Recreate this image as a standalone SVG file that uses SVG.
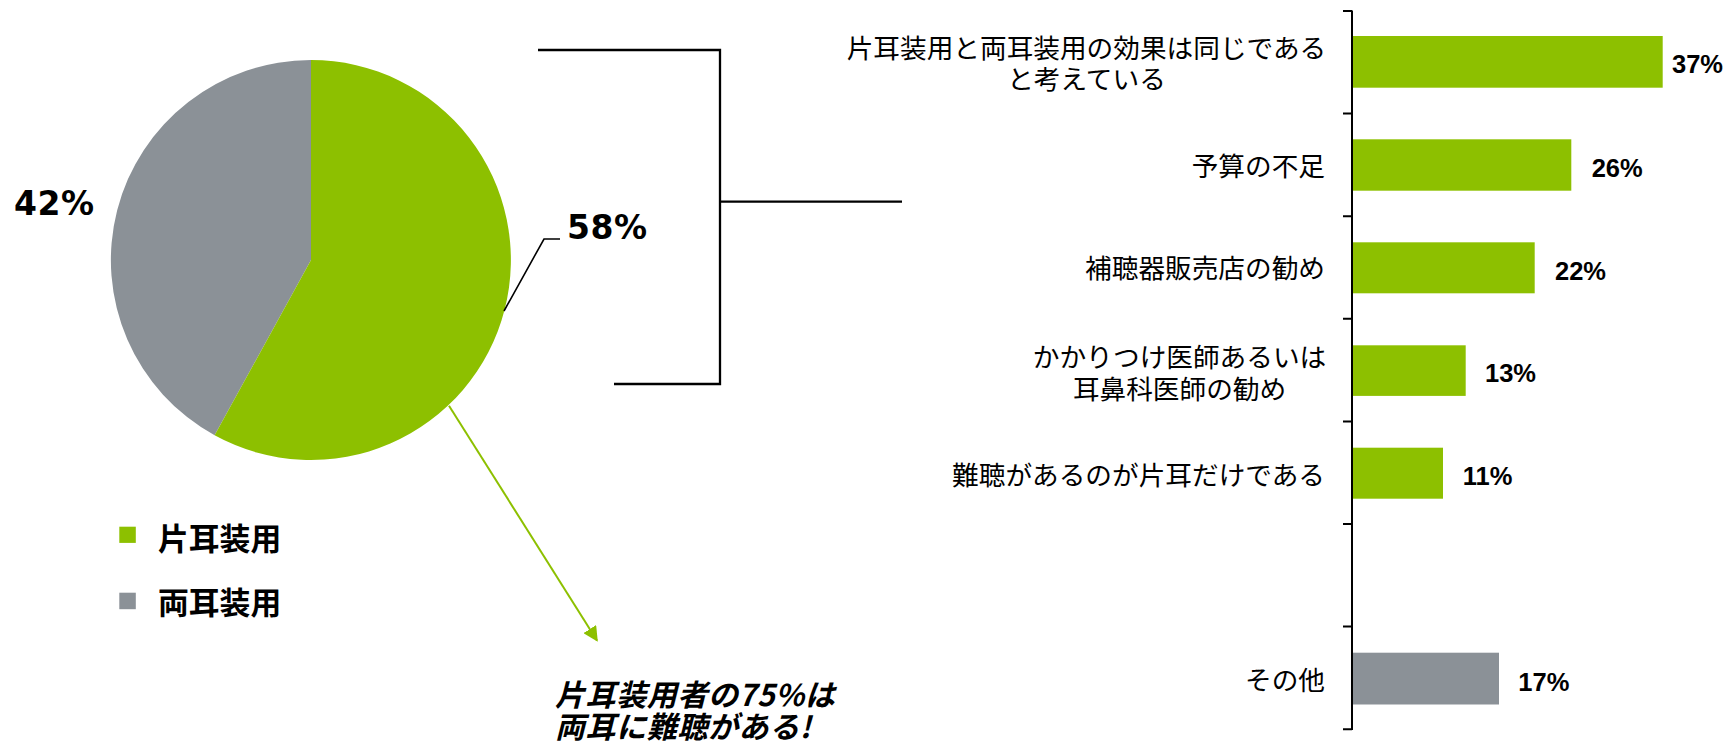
<svg xmlns="http://www.w3.org/2000/svg" width="1727" height="747" viewBox="0 0 1727 747">
<style>
.cat{font-family:"Noto Sans CJK JP","Noto Sans CJK SC",sans-serif;font-size:26.67px;fill:#000}
.val{font-family:"Liberation Sans",Arial,sans-serif;font-weight:bold;font-size:25.5px;fill:#000}
.pct{font-family:"DejaVu Sans",Verdana,sans-serif;font-weight:bold;font-size:33px;letter-spacing:0.6px;fill:#000}
.leg{font-family:"Noto Sans CJK JP","Noto Sans CJK SC",sans-serif;font-weight:bold;font-size:30.8px;fill:#000}
.note{font-family:"Noto Sans CJK JP","Noto Sans CJK SC",sans-serif;font-weight:bold;font-style:italic;font-size:30px;letter-spacing:0.6px;fill:#000}
.green{fill:#8DC000}
.grey{fill:#8B9197}
.blk{fill:none;stroke:#000;stroke-width:2.3}
</style>
<defs>
<marker id="arrowG" viewBox="0 0 10 10" refX="9" refY="5" markerWidth="7.5" markerHeight="7.5" markerUnits="strokeWidth" orient="auto">
<path d="M0,0 L10,5 L0,10 z" fill="#8DC000"/>
</marker>
</defs>

<g id="pie">
<path class="grey" d="M311,260 L311,60 A200,200 0 0,0 214.6,435.3 Z"/>
<path class="green" d="M311,260 L311,60 A200,200 0 1,1 214.6,435.3 Z"/>
</g>

<g id="label-42">
<text class="pct" x="14" y="215">42%</text>
</g>
<g id="label-58">
<text class="pct" x="567" y="239">58%</text>
</g>

<g id="legend">
<rect class="green" x="119.3" y="526.7" width="16.5" height="16.2"/>
<text class="leg" x="158" y="550">片耳装用</text>
<rect class="grey" x="119.3" y="592.7" width="16.5" height="16.5"/>
<text class="leg" x="158" y="613.5">両耳装用</text>
</g>

<g id="note">
<text class="note" x="555" y="706">片耳装用者の75%は</text>
<text class="note" x="555" y="738">両耳に難聴がある!</text>
</g>

<g id="connectors">
<polyline fill="none" stroke="#000" stroke-width="1.6" points="504,311 544,239 560,239"/>
<polyline class="blk" points="538,50 720,50 720,384 614,384"/>
<line class="blk" x1="720" y1="201.7" x2="902" y2="201.7"/>
<line x1="449" y1="405.7" x2="597" y2="640.5" stroke="#8DC000" stroke-width="2" marker-end="url(#arrowG)"/>
</g>

<g id="axis">
<line x1="1352" y1="10.5" x2="1352" y2="730" stroke="#000" stroke-width="2"/>
<path d="M1343,11 H1352 M1343,113.6 H1352 M1343,216.2 H1352 M1343,318.8 H1352 M1343,421.4 H1352 M1343,524 H1352 M1343,626.6 H1352 M1343,729.2 H1352" stroke="#000" stroke-width="2"/>
</g>

<g id="bar1">
<rect class="green" x="1353" y="36" width="309.7" height="51.7"/>
<text class="val" x="1672" y="73.3">37%</text>
<text class="cat" x="1086.5" y="58" text-anchor="middle">片耳装用と両耳装用の効果は同じである</text>
<text class="cat" x="1086.5" y="89" text-anchor="middle">と考えている</text>
</g>
<g id="bar2">
<rect class="green" x="1353" y="139.3" width="218.3" height="51.4"/>
<text class="val" x="1591.7" y="176.7">26%</text>
<text class="cat" x="1325" y="176" text-anchor="end">予算の不足</text>
</g>
<g id="bar3">
<rect class="green" x="1353" y="242.3" width="181.7" height="51"/>
<text class="val" x="1555" y="279.5">22%</text>
<text class="cat" x="1325" y="278.3" text-anchor="end">補聴器販売店の勧め</text>
</g>
<g id="bar4">
<rect class="green" x="1353" y="345.3" width="112.7" height="50.6"/>
<text class="val" x="1485" y="381.5">13%</text>
<text class="cat" x="1179.5" y="366.5" text-anchor="middle">かかりつけ医師あるいは</text>
<text class="cat" x="1179.5" y="399" text-anchor="middle">耳鼻科医師の勧め</text>
</g>
<g id="bar5">
<rect class="green" x="1353" y="447.7" width="90" height="51"/>
<text class="val" x="1462.7" y="484.5">11%</text>
<text class="cat" x="1325" y="484.5" text-anchor="end">難聴があるのが片耳だけである</text>
</g>
<g id="bar6">
<rect class="grey" x="1353" y="652.7" width="146" height="51.8"/>
<text class="val" x="1518.3" y="690.7">17%</text>
<text class="cat" x="1325" y="690" text-anchor="end">その他</text>
</g>
</svg>
